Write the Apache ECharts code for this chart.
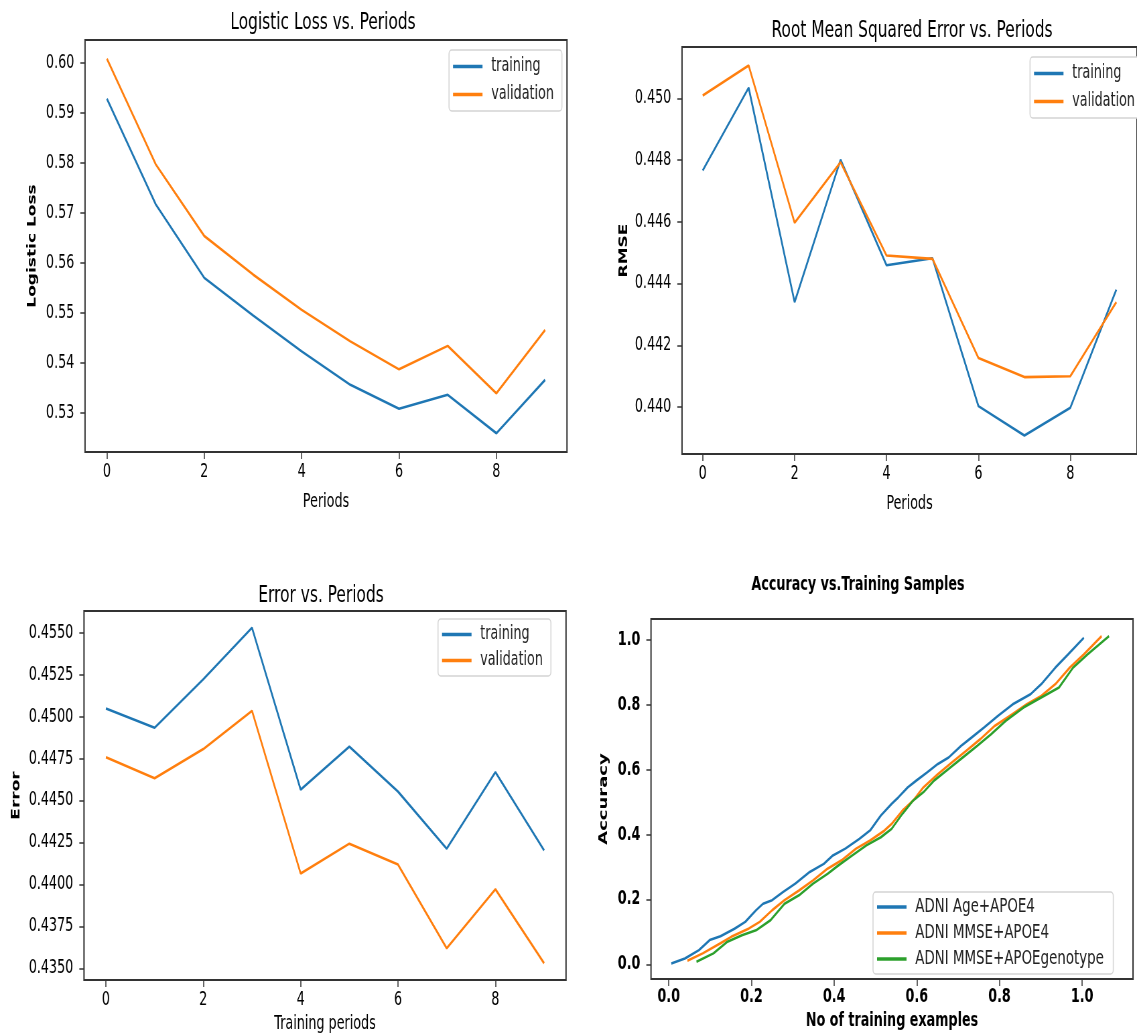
<!DOCTYPE html>
<html>
<head>
<meta charset="utf-8">
<script src="https://cdn.jsdelivr.net/npm/echarts@6/dist/echarts.min.js"></script>
<style>
html, body { margin: 0; background: #fff; overflow: hidden; }
#wrap { width: 1137px; height: 1035px; overflow: hidden; }
/* the source figure is squeezed sideways, so the chart is drawn wide and squeezed too */
#chart { width: 1697px; height: 1035px; transform: scaleX(0.67); transform-origin: 0 0; }
</style>
</head>
<body>
<div id="wrap"><div id="chart"></div></div>
<script>
// periods on the x axis of the first three panels
var periods = [0, 1, 2, 3, 4, 5, 6, 7, 8, 9];
var periodTicks = [0, 2, 4, 6, 8];

// logistic loss
var lossTrain = [0.5929, 0.5718, 0.5570, 0.5495, 0.5423, 0.5356, 0.5308, 0.5336, 0.5259, 0.5366];
var lossValid = [0.6009, 0.5798, 0.5654, 0.5577, 0.5506, 0.5443, 0.5387, 0.5434, 0.5339, 0.5466];
var lossTicks = [0.53, 0.54, 0.55, 0.56, 0.57, 0.58, 0.59, 0.60];

// rmse
var rmseTrain = [0.44766, 0.45034, 0.44340, 0.44801, 0.44459, 0.44482, 0.44003, 0.43908, 0.43998, 0.44380];
var rmseValid = [0.45009, 0.45106, 0.44597, 0.44793, 0.44491, 0.44480, 0.44159, 0.44097, 0.44100, 0.44340];
var rmseTicks = [0.440, 0.442, 0.444, 0.446, 0.448, 0.450];

// error
var errTrain = [0.45049, 0.44934, 0.45223, 0.45530, 0.44565, 0.44821, 0.44553, 0.44213, 0.44669, 0.44203];
var errValid = [0.44758, 0.44633, 0.44807, 0.45035, 0.44065, 0.44243, 0.44118, 0.43619, 0.43971, 0.43530];
var errTicks = [0.4350, 0.4375, 0.4400, 0.4425, 0.4450, 0.4475, 0.4500, 0.4525, 0.4550];

// accuracy vs training samples
var ageX = [0.006, 0.039, 0.073, 0.099, 0.125, 0.159, 0.185, 0.211, 0.228, 0.250, 0.276, 0.306, 0.341, 0.375, 0.397, 0.427, 0.461, 0.487, 0.513, 0.539, 0.556, 0.578, 0.599, 0.625, 0.651, 0.677, 0.707, 0.728, 0.763, 0.797, 0.832, 0.875, 0.901, 0.935, 0.966, 1.004];
var ageY = [0.003, 0.018, 0.044, 0.075, 0.087, 0.110, 0.131, 0.167, 0.187, 0.198, 0.223, 0.249, 0.285, 0.310, 0.336, 0.357, 0.387, 0.413, 0.459, 0.495, 0.516, 0.546, 0.567, 0.592, 0.618, 0.638, 0.674, 0.695, 0.731, 0.767, 0.802, 0.833, 0.864, 0.915, 0.956, 1.007];
var mmseX = [0.045, 0.082, 0.125, 0.151, 0.194, 0.220, 0.250, 0.280, 0.315, 0.349, 0.384, 0.418, 0.453, 0.487, 0.522, 0.539, 0.565, 0.591, 0.616, 0.651, 0.685, 0.720, 0.754, 0.789, 0.832, 0.866, 0.901, 0.935, 0.970, 1.004, 1.047];
var mmseY = [0.011, 0.034, 0.065, 0.085, 0.111, 0.131, 0.167, 0.198, 0.228, 0.259, 0.295, 0.321, 0.357, 0.382, 0.413, 0.433, 0.474, 0.505, 0.546, 0.587, 0.623, 0.659, 0.695, 0.736, 0.772, 0.802, 0.828, 0.864, 0.915, 0.956, 1.012];
var genoX = [0.067, 0.108, 0.142, 0.177, 0.211, 0.246, 0.280, 0.315, 0.349, 0.384, 0.410, 0.444, 0.478, 0.513, 0.539, 0.565, 0.591, 0.616, 0.642, 0.677, 0.711, 0.746, 0.780, 0.815, 0.858, 0.901, 0.944, 0.978, 1.013, 1.065];
var genoY = [0.008, 0.034, 0.070, 0.090, 0.105, 0.136, 0.187, 0.213, 0.249, 0.279, 0.305, 0.336, 0.367, 0.392, 0.418, 0.464, 0.505, 0.531, 0.567, 0.603, 0.638, 0.674, 0.710, 0.751, 0.792, 0.823, 0.854, 0.915, 0.956, 1.012];
var accTicks = [0.0, 0.2, 0.4, 0.6, 0.8, 1.0];
var accNames = ['ADNI Age+APOE4', 'ADNI MMSE+APOE4', 'ADNI MMSE+APOEgenotype'];

var BLUE = '#1f77b4', ORANGE = '#ff7f0e', GREEN = '#2ca02c';
var FONT = "'DejaVu Sans', sans-serif";
var SX = 0.67;
// page x (after squeeze) -> chart x
function X(v) { return v / SX; }

function pairs(xs, ys) {
  return xs.map(function (x, i) { return [x, ys[i]]; });
}

function axis(gi, min, max, ticks, dec, name, gap, bold, nameBold, nameSize, margin) {
  return {
    type: 'value', gridIndex: gi, min: min, max: max,
    axisLine: { show: false, onZero: false },
    splitLine: { show: false },
    axisTick: { show: true, length: 7, lineStyle: { color: '#333', width: 1.5 }, customValues: ticks },
    axisLabel: {
      customValues: ticks, margin: margin, color: '#000', fontFamily: FONT, fontSize: 19,
      fontWeight: bold ? 'bold' : 'normal',
      formatter: function (v) { return v.toFixed(dec); }
    },
    name: name, nameLocation: 'middle', nameGap: gap,
    nameTextStyle: { color: '#000', fontFamily: FONT, fontSize: nameSize, fontWeight: nameBold ? 'bold' : 'normal' }
  };
}

function line(name, xi, data, color) {
  return {
    type: 'line', name: name, xAxisIndex: xi, yAxisIndex: xi, data: data,
    symbol: 'none', lineStyle: { width: 2.6, color: color }, itemStyle: { color: color }
  };
}

function legend(names, left, top, gap, pad, size) {
  return {
    data: names, orient: 'vertical', left: X(left), top: top, itemGap: gap,
    icon: 'rect', itemWidth: 44, itemHeight: 3.5,
    padding: pad, backgroundColor: '#fff', borderColor: '#d4d4d4', borderWidth: 1.5, borderRadius: 4,
    textStyle: { fontFamily: FONT, fontSize: size, color: '#222', padding: [0, 0, 0, 8] }
  };
}

function title(text, cx, cy, size, bold) {
  return {
    text: text, left: X(cx), top: cy - size / 2, textAlign: 'center', padding: 0,
    textStyle: { fontFamily: FONT, fontSize: size, fontWeight: bold ? 'bold' : 'normal', color: '#000' }
  };
}

function grid(l, t, w, h) {
  return { left: X(l), top: t, width: X(w), height: h, show: true,
           borderColor: '#333', borderWidth: 2, backgroundColor: 'transparent' };
}

var chart = echarts.init(document.getElementById('chart'));

chart.setOption({
  animation: false,
  backgroundColor: '#fff',
  title: [
    title('Logistic Loss vs. Periods', 323, 23, 23),
    title('Root Mean Squared Error vs. Periods', 912, 31, 23),
    title('Error vs. Periods', 321, 596, 23),
    title('Accuracy vs.Training Samples', 858, 585, 19, true)
  ],
  grid: [
    grid(85, 40, 482, 412),
    grid(682, 47, 465, 407),
    grid(84, 611, 482, 371),
    grid(651, 619, 482, 360)
  ],
  xAxis: [
    axis(0, -0.45, 9.45, periodTicks, 0, 'Periods', 41, false, false, 19, 11),
    axis(1, -0.45, 9.45, periodTicks, 0, 'Periods', 41, false, false, 19, 11),
    axis(2, -0.45, 9.45, periodTicks, 0, 'Training periods', 35, false, false, 19, 11),
    axis(3, -0.043, 1.123, accTicks, 1, 'No of training examples', 33, true, true, 19, 9)
  ],
  yAxis: [
    axis(0, 0.52215, 0.60465, lossTicks, 2, 'Logistic Loss', 70, false, true, 17, 16),
    axis(1, 0.43848, 0.45166, rmseTicks, 3, 'RMSE', 78, false, true, 17, 16),
    axis(2, 0.43430, 0.45630, errTicks, 4, 'Error', 92, false, true, 17, 16),
    axis(3, -0.045, 1.065, accTicks, 1, 'Accuracy', 61, true, true, 18, 16)
  ],
  legend: [
    legend(['training', 'validation'], 449, 50, 9, [7, 12, 7, 6], 19),
    legend(['training', 'validation'], 1030, 57, 9, [7, 40, 7, 6], 19),
    legend(['training', 'validation'], 438, 619, 7, [6, 12, 6, 6], 19),
    legend(accNames, 873, 892, 6, [5, 14, 5, 6], 20)
  ],
  series: [
    line('training', 0, pairs(periods, lossTrain), BLUE),
    line('validation', 0, pairs(periods, lossValid), ORANGE),
    line('training', 1, pairs(periods, rmseTrain), BLUE),
    line('validation', 1, pairs(periods, rmseValid), ORANGE),
    line('training', 2, pairs(periods, errTrain), BLUE),
    line('validation', 2, pairs(periods, errValid), ORANGE),
    line(accNames[0], 3, pairs(ageX, ageY), BLUE),
    line(accNames[1], 3, pairs(mmseX, mmseY), ORANGE),
    line(accNames[2], 3, pairs(genoX, genoY), GREEN)
  ]
});
</script>
</body>
</html>
